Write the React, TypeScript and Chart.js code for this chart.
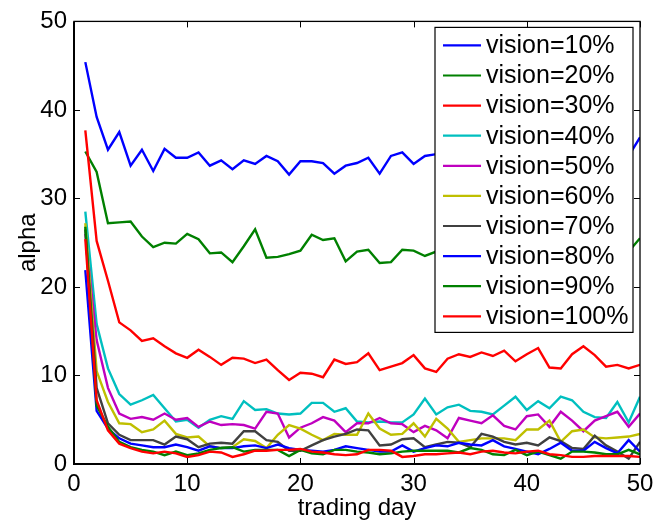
import React, { useEffect, useRef } from "react";
import { Chart, registerables } from "chart.js";

Chart.register(...registerables);

const days = [1,2,3,4,5,6,7,8,9,10,11,12,13,14,15,16,17,18,19,20,21,22,23,24,25,26,27,28,29,30,31,32,33,34,35,36,37,38,39,40,41,42,43,44,45,46,47,48,49,50];

const v10 = [45.4,39.2,35.5,37.5,33.7,35.5,33.1,35.6,34.6,34.6,35.2,33.7,34.3,33.3,34.3,33.9,34.8,34.2,32.7,34.2,34.2,34.0,32.8,33.7,34.0,34.6,32.8,34.8,35.2,33.9,34.8,35.0,34.4,35.3,34.1,35.0,34.6,33.8,35.2,34.4,34.9,35.6,34.2,34.8,35.1,34.5,35.4,34.7,34.8,36.9];
const v20 = [35.3,33.0,27.2,27.3,27.4,25.7,24.5,25.0,24.9,26.0,25.4,23.8,23.9,22.8,24.6,26.5,23.3,23.4,23.7,24.1,25.9,25.3,25.5,22.9,24.0,24.2,22.7,22.8,24.2,24.1,23.5,24.0,23.6,24.5,23.2,24.8,24.1,23.4,25.0,24.3,23.7,24.6,23.9,24.4,23.1,24.7,24.0,23.5,24.0,25.5];
const v30 = [37.7,25.2,20.7,16.0,15.1,13.9,14.2,13.3,12.5,12.0,12.9,12.1,11.2,12.0,11.9,11.4,11.8,10.6,9.5,10.3,10.2,9.8,11.8,11.3,11.5,12.5,10.6,11.0,11.4,12.3,10.8,10.4,11.9,12.4,12.1,12.6,12.2,12.8,11.6,12.4,13.1,10.9,10.8,12.4,13.3,12.3,11.0,11.2,10.8,11.2];
const v40 = [28.5,15.8,10.8,7.9,6.7,7.2,7.8,6.3,4.8,5.0,4.1,5.0,5.4,5.1,7.1,6.1,6.2,5.7,5.6,5.7,6.9,6.9,5.9,6.3,4.8,4.7,4.8,4.7,4.7,5.6,7.4,5.6,6.4,6.7,6.0,5.9,5.6,6.6,7.6,6.1,7.1,6.3,7.6,7.2,5.9,5.3,5.2,7.0,4.7,7.6];
const v50 = [26.0,14.0,8.6,5.7,5.1,5.3,5.0,5.7,5.0,5.2,4.2,4.8,4.4,4.5,4.4,4.0,5.9,5.7,3.0,4.1,4.6,5.3,4.9,3.6,4.6,4.6,5.2,4.6,4.5,3.6,4.3,3.8,2.9,5.2,4.9,4.6,5.5,4.3,3.9,5.4,5.6,4.2,5.9,4.9,3.7,4.9,5.4,5.9,4.2,5.7];
const v60 = [27.2,10.5,7.0,4.6,4.5,3.6,3.9,4.9,3.4,3.0,3.1,2.0,1.8,1.9,2.8,2.6,1.8,3.3,4.4,4.0,3.3,2.7,3.4,3.3,3.3,5.7,4.0,3.3,3.4,4.6,3.1,5.1,4.0,2.5,2.7,2.9,2.9,2.9,2.7,3.9,3.9,4.9,2.5,3.7,3.9,3.0,2.9,3.0,3.1,3.4];
const v70 = [26.5,8.6,4.6,3.3,2.7,2.7,2.7,2.2,3.1,2.8,1.9,2.3,2.4,2.3,3.7,3.7,2.7,2.5,1.5,1.5,2.1,2.7,3.1,3.4,3.9,3.8,2.1,2.2,2.8,2.9,1.9,2.2,2.5,2.4,1.9,3.4,3.1,2.5,2.2,2.4,2.1,3.0,2.6,1.8,1.7,3.2,2.1,1.4,0.6,2.5];
const v80 = [21.9,6.0,4.0,2.9,2.3,2.1,1.9,1.9,2.2,1.9,1.5,2.0,1.8,1.8,2.0,2.1,1.8,2.2,1.8,1.6,1.5,1.4,1.6,2.0,1.8,1.6,1.4,1.4,2.1,1.4,1.8,2.1,2.0,2.4,2.2,2.1,2.7,2.0,1.7,1.4,1.1,1.7,2.4,1.5,1.5,2.5,1.8,1.2,2.7,1.4];
const v90 = [26.8,6.6,4.2,2.5,1.9,1.6,1.4,1.0,1.4,1.0,1.2,1.6,1.8,1.9,1.4,1.6,1.6,1.6,0.9,1.6,1.2,1.1,1.6,1.6,1.4,1.3,1.1,1.2,1.4,1.5,1.5,1.5,1.5,1.3,1.8,1.6,1.1,1.0,1.6,1.0,1.4,1.0,0.6,1.4,1.4,1.3,1.1,1.1,1.6,1.1];
const v100 = [25.4,7.2,3.8,2.3,1.8,1.4,1.2,1.4,1.2,0.8,1.0,1.4,1.3,0.8,1.1,1.5,1.5,1.6,1.6,1.7,1.4,1.3,1.1,1.0,1.1,1.6,1.6,1.5,0.8,0.9,1.1,1.1,1.2,1.3,1.1,1.4,1.5,1.3,1.2,1.4,1.5,1.1,1.0,0.8,0.8,0.9,0.9,0.9,0.9,0.8];

const seriesLabels = ["vision=10%","vision=20%","vision=30%","vision=40%","vision=50%","vision=60%","vision=70%","vision=80%","vision=90%","vision=100%"];
const seriesValues = [v10, v20, v30, v40, v50, v60, v70, v80, v90, v100];
const seriesColors = ["#0000FF","#008000","#FF0000","#00BFBF","#BF00BF","#BFBF00","#404040","#0000FF","#008000","#FF0000"];

const xTicks = [0, 10, 20, 30, 40, 50];
const yTicks = [0, 10, 20, 30, 40, 50];

const FONT = "'Liberation Sans', Arial, Helvetica, sans-serif";

const legendPlugin = {
  id: "insideLegend",
  afterDatasetsDraw(chart: any) {
    const ctx = chart.ctx;
    const area = chart.chartArea;
    const boxR = area.right - 7;
    const boxL = boxR - 198;
    const boxT = area.top + 6;
    const boxB = boxT + 305;
    ctx.save();
    ctx.fillStyle = "#ffffff";
    ctx.fillRect(boxL, boxT, boxR - boxL, boxB - boxT);
    ctx.strokeStyle = "#000000";
    ctx.lineWidth = 1.2;
    ctx.strokeRect(boxL, boxT, boxR - boxL, boxB - boxT);
    ctx.font = "25px " + FONT;
    ctx.textBaseline = "middle";
    ctx.textAlign = "left";
    chart.data.datasets.forEach((ds: any, i: number) => {
      const y = boxT + 18 + i * 30.1;
      ctx.strokeStyle = ds.borderColor;
      ctx.lineWidth = 2.2;
      ctx.beginPath();
      ctx.moveTo(boxL + 8, y);
      ctx.lineTo(boxL + 46, y);
      ctx.stroke();
      ctx.fillStyle = "#000000";
      ctx.fillText(ds.label, boxL + 51, y + 1);
    });
    ctx.restore();
  },
};

const boxPlugin = {
  id: "matlabBox",
  afterDraw(chart: any) {
    const ctx = chart.ctx;
    const { left, right, top, bottom } = chart.chartArea;
    const xs = chart.scales.x;
    const ys = chart.scales.y;
    ctx.save();
    ctx.strokeStyle = "#000000";
    ctx.lineWidth = 1;
    const tl = 6;
    ctx.beginPath();
    xTicks.forEach((v) => {
      const px = Math.round(xs.getPixelForValue(v)) + 0.5;
      ctx.moveTo(px, bottom);
      ctx.lineTo(px, bottom - tl);
      ctx.moveTo(px, top);
      ctx.lineTo(px, top + tl);
    });
    yTicks.forEach((v) => {
      const py = Math.round(ys.getPixelForValue(v)) + 0.5;
      ctx.moveTo(left, py);
      ctx.lineTo(left + tl, py);
      ctx.moveTo(right, py);
      ctx.lineTo(right - tl, py);
    });
    ctx.stroke();
    ctx.lineWidth = 1.3;
    ctx.strokeRect(left, top, right - left, bottom - top);
    ctx.lineWidth = 2;
    ctx.beginPath();
    ctx.moveTo(left, top);
    ctx.lineTo(left, bottom);
    ctx.lineTo(right, bottom);
    ctx.stroke();
    ctx.restore();
  },
};

export default function App() {
  const canvasRef = useRef<HTMLCanvasElement | null>(null);

  useEffect(() => {
    if (!canvasRef.current) return;
    const datasets = seriesValues.map((vals, i) => ({
      label: seriesLabels[i],
      data: vals.map((v, j) => ({ x: days[j], y: v })),
      borderColor: seriesColors[i],
      backgroundColor: seriesColors[i],
      borderWidth: 2.4,
      pointRadius: 0,
      tension: 0,
      fill: false,
      order: seriesValues.length - 1 - i,
    }));
    const chart = new Chart(canvasRef.current, {
      type: "line",
      data: { datasets },
      options: {
        responsive: false,
        animation: false,
        events: [],
        layout: { padding: { top: 19, right: 30, left: 0, bottom: 0 } },
        plugins: {
          legend: { display: false },
          tooltip: { enabled: false },
        },
        scales: {
          x: {
            type: "linear",
            min: 0,
            max: 50,
            afterFit: (scale: any) => { scale.height = 59; },
            afterBuildTicks: (scale: any) => { scale.ticks = xTicks.map((v) => ({ value: v })); },
            grid: { display: false, drawTicks: false, tickLength: 0 },
            border: { display: false },
            ticks: {
              color: "#000000",
              font: { family: FONT, size: 24 },
              padding: 6,
              maxRotation: 0,
            },
            title: {
              display: true,
              text: "trading day",
              color: "#000000",
              font: { family: FONT, size: 24 },
              padding: { top: 0, bottom: 0 },
            },
          },
          y: {
            type: "linear",
            min: 0,
            max: 50,
            afterFit: (scale: any) => { scale.width = 74; },
            afterBuildTicks: (scale: any) => { scale.ticks = yTicks.map((v) => ({ value: v })); },
            grid: { display: false, drawTicks: false, tickLength: 0 },
            border: { display: false },
            ticks: {
              color: "#000000",
              font: { family: FONT, size: 24 },
              padding: 7,
            },
            title: {
              display: true,
              text: "alpha",
              color: "#000000",
              font: { family: FONT, size: 24 },
              padding: { top: 14, bottom: 0 },
            },
          },
        },
      },
      plugins: [legendPlugin, boxPlugin],
    } as any);
    return () => chart.destroy();
  }, []);

  return (
    <div style={{ position: "absolute", left: 0, top: 0, width: 670, height: 523, background: "#ffffff" }}>
      <canvas ref={canvasRef} width={670} height={523} style={{ display: "block" }} />
    </div>
  );
}
